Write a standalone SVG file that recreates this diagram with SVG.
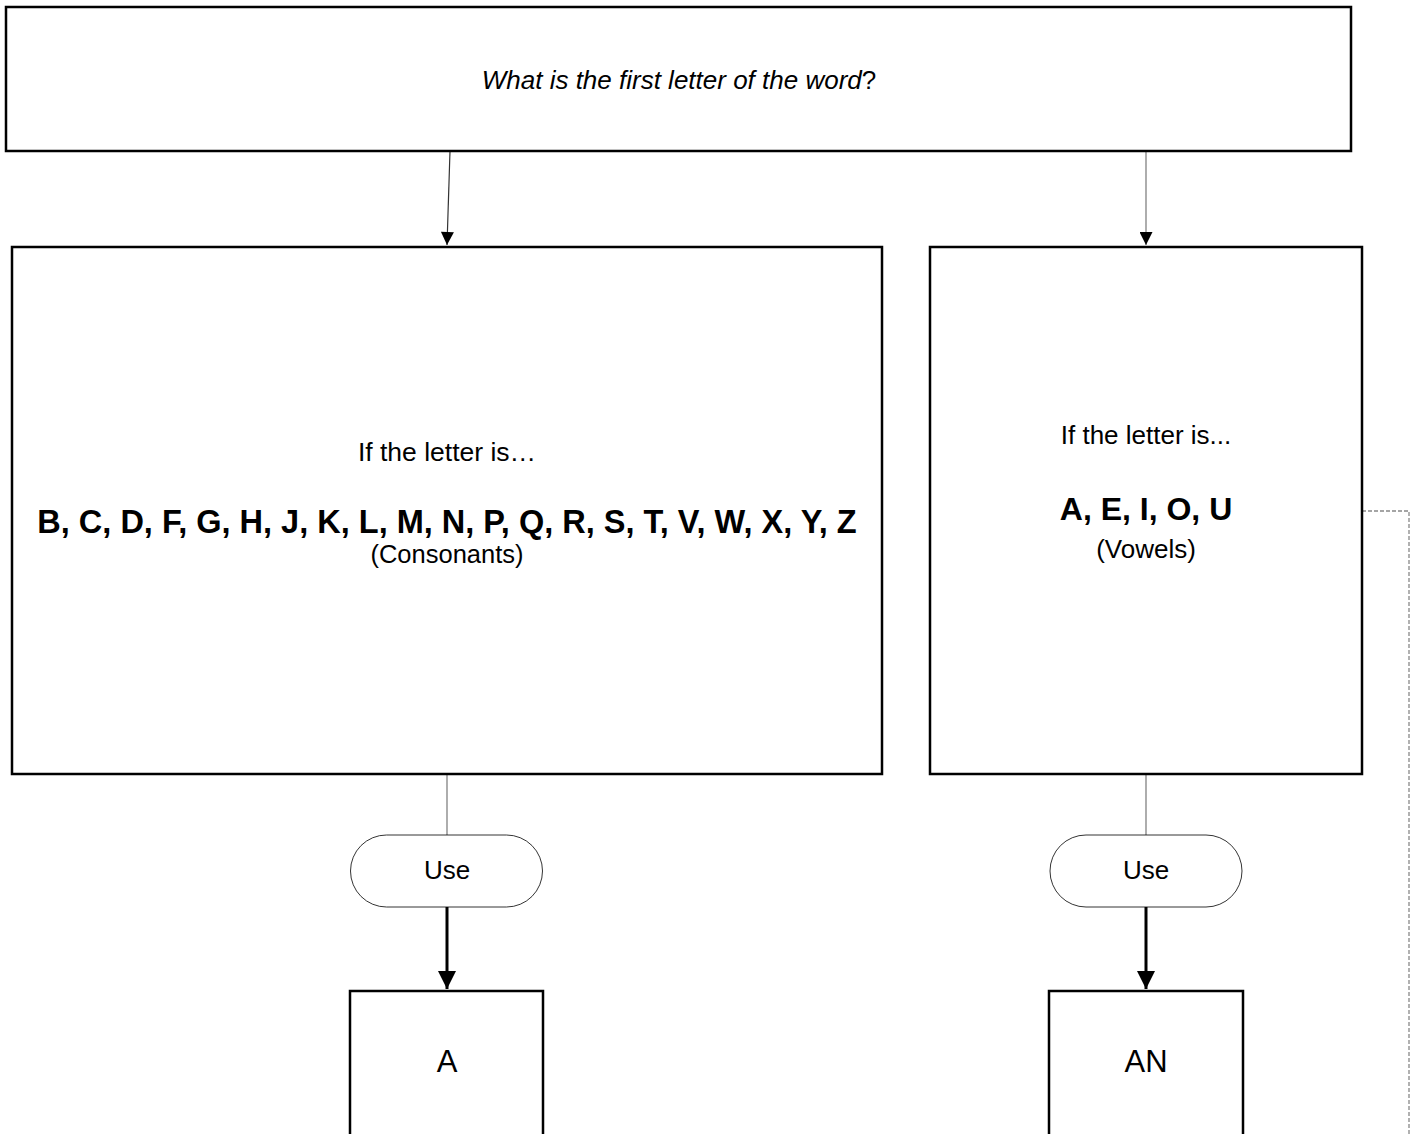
<svg xmlns="http://www.w3.org/2000/svg" width="1418" height="1134" viewBox="0 0 1418 1134">
<defs>
<style>
.box{fill:#fff;stroke:#000;stroke-width:2.5}
.pill{fill:#fff;stroke:#000;stroke-width:0.8}
.t{font-family:"Liberation Sans",Arial,sans-serif;fill:#000;text-anchor:middle}
.b{font-weight:bold}
.thin{stroke:#777;stroke-width:1.2;fill:none}
.thick{stroke:#000;stroke-width:3;fill:none}
.dash{stroke:#888;stroke-width:1.3;stroke-dasharray:4,2;fill:none}
</style>
<marker id="ah" viewBox="0 0 10 10" refX="10" refY="5" markerWidth="14" markerHeight="13" markerUnits="userSpaceOnUse" orient="auto">
<path d="M0,0 L10,5 L0,10 z" fill="#000"/>
</marker>
<marker id="ah2" viewBox="0 0 10 10" refX="10" refY="5" markerWidth="6" markerHeight="6.3" orient="auto">
<path d="M0,0 L10,5 L0,10 z" fill="#000"/>
</marker>
</defs>
<rect width="1418" height="1134" fill="#fff"/>
<g id="connectors">
<path class="thin" d="M450,151 L447,245" marker-end="url(#ah)" style="stroke:#333"/>
<path class="thin" d="M1146,151 L1146,245" marker-end="url(#ah)"/>
<path class="thin" d="M447,774 L447,835"/>
<path class="thin" d="M1146,774 L1146,835"/>
<path class="thick" d="M447,907 L447,989" marker-end="url(#ah2)"/>
<path class="thick" d="M1146,907 L1146,989" marker-end="url(#ah2)"/>
<path class="dash" d="M1362,511 L1409,511 L1409,1134"/>
</g>
<g id="question">
<rect class="box" x="6" y="7" width="1345" height="144"/>
<text class="t" x="679" y="89" font-size="26"><tspan font-style="italic">What is the first letter of the word</tspan>?</text>
</g>
<g id="consonants">
<rect class="box" x="12" y="247" width="870" height="527"/>
<text class="t" x="447" y="461" font-size="26.5">If the letter is…</text>
<text class="t b" x="447" y="533" font-size="32.5">B, C, D, F, G, H, J, K, L, M, N, P, Q, R, S, T, V, W, X, Y, Z</text>
<text class="t" x="447" y="563" font-size="25.5">(Consonants)</text>
</g>
<g id="vowels">
<rect class="box" x="930" y="247" width="432" height="527"/>
<text class="t" x="1146" y="444" font-size="26">If the letter is...</text>
<text class="t b" x="1146" y="520" font-size="32">A, E, I, O, U</text>
<text class="t" x="1146" y="558" font-size="26">(Vowels)</text>
</g>
<g id="use-left">
<rect class="pill" x="350.5" y="835" width="192" height="72" rx="36" ry="36"/>
<text class="t" x="447" y="879" font-size="26">Use</text>
</g>
<g id="use-right">
<rect class="pill" x="1050" y="835" width="192" height="72" rx="36" ry="36"/>
<text class="t" x="1146" y="879" font-size="26">Use</text>
</g>
<g id="a">
<rect class="box" x="350" y="991" width="193" height="160"/>
<text class="t" x="447" y="1072" font-size="31">A</text>
</g>
<g id="an">
<rect class="box" x="1049" y="991" width="194" height="160"/>
<text class="t" x="1146" y="1072" font-size="31">AN</text>
</g>
</svg>
